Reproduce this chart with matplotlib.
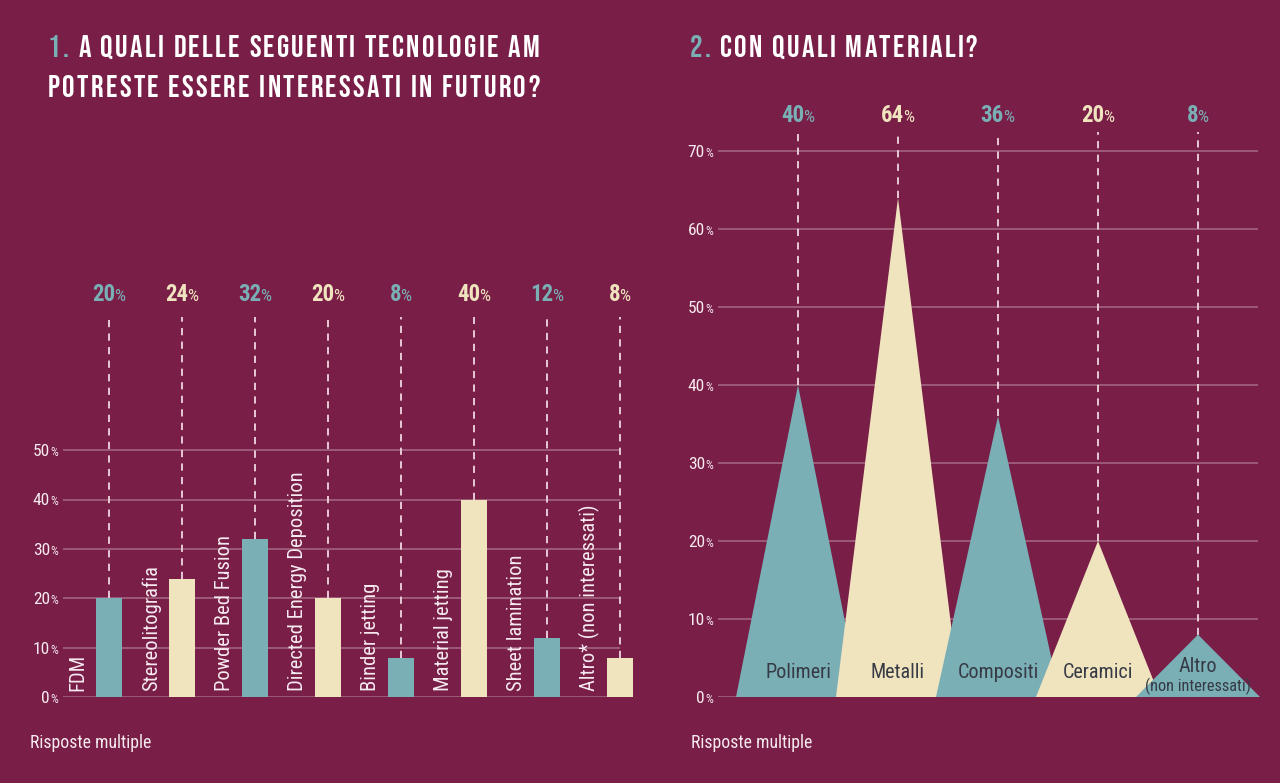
import numpy as np
import matplotlib.pyplot as plt

# colori
BG = '#781e47'
TEAL = '#7aafb6'
CREAM = '#f0e4bf'
GRID = '#a56a85'
DASH = '#f0d6e0'
TXT = '#f6eaf0'
DARK = '#363a45'
FONT = ['Roboto Condensed', 'Liberation Sans Narrow', 'DejaVu Sans']
TITLE_FONT = ['Bebas Neue', 'League Gothic', 'Roboto Condensed', 'DejaVu Sans']

# grafico 1: tecnologie
tecnologie = ['FDM', 'Stereolitografia', 'Powder Bed Fusion', 'Directed Energy Deposition',
              'Binder jetting', 'Material jetting', 'Sheet lamination', 'Altro* (non interessati)']
tec_valori = [20, 24, 32, 20, 8, 40, 12, 8]
tec_ticks = [0, 10, 20, 30, 40, 50]

# grafico 2: materiali
materiali = ['Polimeri', 'Metalli', 'Compositi', 'Ceramici', 'Altro']
mat_valori = [40, 64, 36, 20, 8]
mat_ticks = [0, 10, 20, 30, 40, 50, 60, 70]

W, H = 1280, 783
plt.rcParams['font.family'] = FONT

fig = plt.figure(figsize=(W / 100, H / 100), dpi=100)
fig.patch.set_facecolor(BG)
renderer = fig.canvas.get_renderer()


def pulisci(ax):
    ax.set_facecolor('none')
    for s in ax.spines.values():
        s.set_visible(False)
    ax.set_xticks([])
    ax.set_yticks([])


def tick_perc(ax, ticks):
    # etichette asse y: numero + "%" piu' piccolo
    xa, xb = ax.get_xlim()
    for t in ticks:
        ax.hlines(t, xa, xb, colors=GRID, lw=1.1, zorder=1)
        ax.annotate('%', (0, t), xycoords=('axes fraction', 'data'), xytext=(-3.5, -4.3),
                    textcoords='offset points', ha='right', va='baseline',
                    fontsize=9, color=TXT, annotation_clip=False)
        ax.annotate(str(t), (0, t), xycoords=('axes fraction', 'data'), xytext=(-9.4, -4.3),
                    textcoords='offset points', ha='right', va='baseline',
                    fontsize=12.5, color=TXT, annotation_clip=False)


def valore(ax, x, y, num, color, size=16.5, psize=12.5):
    off = (len(str(num)) * 0.51 * size - 0.66 * psize) / 2
    ax.annotate(str(num), (x, y), xytext=(off, 0), textcoords='offset points',
                ha='right', va='baseline', fontsize=size, fontweight='bold',
                color=color, annotation_clip=False)
    ax.annotate('%', (x, y), xytext=(off - 0.8, 0), textcoords='offset points',
                ha='left', va='baseline', fontsize=psize, color=color,
                annotation_clip=False)


def titolo(x, y, parti, size=22.5, track=2.3):
    # testo con spaziatura tra lettere, x/y in pixel dall'alto a sinistra
    for s, col in parti:
        for ch in s:
            t = fig.text(x / W, 1 - y / H, ch, fontsize=size, family=TITLE_FONT, color=col)
            w = renderer.get_text_width_height_descent(ch, t.get_fontproperties(), ismath=False)[0]
            x += w + track


# ---------------- grafico 1 ----------------
ax1 = fig.add_axes([63 / W, (H - 697) / H, 557 / W, 395 / H])
pulisci(ax1)
ax1.set_xlim(-0.63, 7.0)
ax1.set_ylim(0, 80)
tick_perc(ax1, tec_ticks)

x1 = np.arange(len(tecnologie))
colori1 = [TEAL if i % 2 == 0 else CREAM for i in x1]
ax1.bar(x1, tec_valori, width=0.36, color=colori1, zorder=3, clip_on=False)
ax1.vlines(x1, tec_valori, 77, colors=DASH, lw=1.3, linestyles=(0, (4, 3.5)),
           zorder=2, clip_on=False)
for i, (lab, v) in enumerate(zip(tecnologie, tec_valori)):
    ax1.text(i - 0.42, 1.2, lab, rotation=90, ha='center', va='bottom',
             fontsize=14.8, color=TXT, zorder=4)
    valore(ax1, i, 80.3, v, colori1[i])

fig.text(30 / W, 1 - 748 / H, 'Risposte multiple', fontsize=12.8, color=TXT)

# ---------------- grafico 2 ----------------
ax2 = fig.add_axes([718 / W, (H - 697) / H, 540 / W, 577 / H])
pulisci(ax2)
ax2.set_xlim(-0.8, 4.6)
ax2.set_ylim(0, 74)
tick_perc(ax2, mat_ticks)

x2 = np.arange(len(materiali))
colori2 = [TEAL if i % 2 == 0 else CREAM for i in x2]
mezzo = 0.62
for i, v in enumerate(mat_valori):
    ax2.fill([i - mezzo, i, i + mezzo], [0, v, 0], color=colori2[i], lw=0,
             zorder=3 + i, clip_on=False)
ax2.vlines(x2, mat_valori, 72.5, colors=DASH, lw=1.3, linestyles=(0, (4, 3.5)),
           zorder=2, clip_on=False)
for i, (lab, v) in enumerate(zip(materiali, mat_valori)):
    valore(ax2, i, 73.8, v, colori2[i])
    if lab == 'Altro':
        ax2.text(i, 3.9, lab, ha='center', va='center', fontsize=14.5, color=DARK, zorder=10)
        ax2.text(i, 1.3, '(non interessati)', ha='center', va='center', fontsize=11.8,
                 color=DARK, zorder=10)
    else:
        ax2.text(i, 3.1, lab, ha='center', va='center', fontsize=14.5, color=DARK, zorder=10)

fig.text(691 / W, 1 - 748 / H, 'Risposte multiple', fontsize=12.8, color=TXT)

# ---------------- titoli ----------------
titolo(48, 57, [('1. ', TEAL), ('A QUALI DELLE SEGUENTI TECNOLOGIE AM', 'white')])
titolo(48, 97, [('POTRESTE ESSERE INTERESSATI IN FUTURO?', 'white')])
titolo(690, 57, [('2. ', TEAL), ('CON QUALI MATERIALI?', 'white')])

fig.savefig('out.png', dpi=100, facecolor=BG)
